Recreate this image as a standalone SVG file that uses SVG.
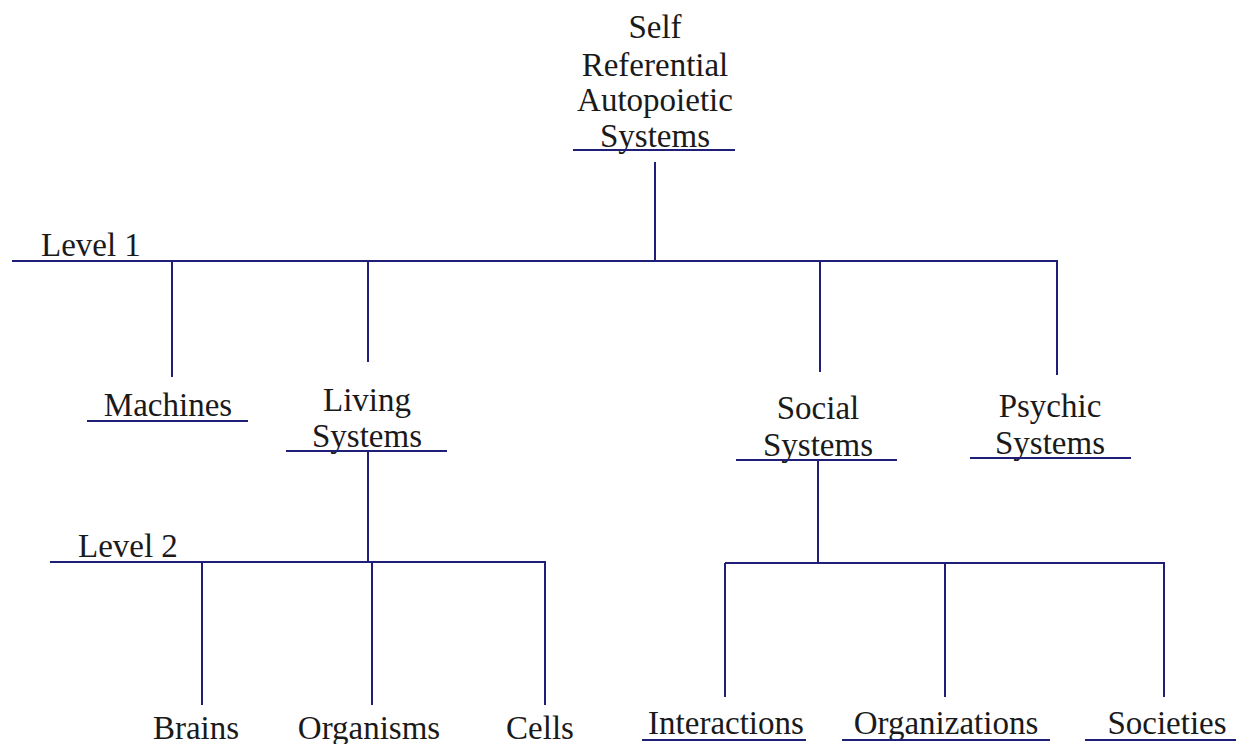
<svg xmlns="http://www.w3.org/2000/svg" width="1238" height="744" viewBox="0 0 1238 744">
<style>
text{font-family:"Liberation Serif","Times New Roman",serif;font-size:33px;fill:#1a1a1a;text-anchor:middle}
.l{text-anchor:start}
line{stroke:#1f1f7a;stroke-width:2}
</style>
<rect width="1238" height="744" fill="#ffffff"/>
<g id="connectors">
<line x1="655" y1="162" x2="655" y2="261"/>
<line x1="12" y1="261" x2="1058" y2="261"/>
<line x1="172" y1="261" x2="172" y2="377"/>
<line x1="368" y1="261" x2="368" y2="362"/>
<line x1="820" y1="261" x2="820" y2="372"/>
<line x1="1057" y1="261" x2="1057" y2="375"/>
<line x1="368" y1="452" x2="368" y2="562"/>
<line x1="50" y1="562" x2="546" y2="562"/>
<line x1="202" y1="562" x2="202" y2="705"/>
<line x1="372" y1="562" x2="372" y2="705"/>
<line x1="545" y1="562" x2="545" y2="705"/>
<line x1="818" y1="461" x2="818" y2="563"/>
<line x1="725" y1="563" x2="1165" y2="563"/>
<line x1="725" y1="563" x2="725" y2="697"/>
<line x1="945" y1="563" x2="945" y2="697"/>
<line x1="1164" y1="563" x2="1164" y2="697"/>
</g>
<g id="level-labels">
<text class="l" x="41" y="256">Level 1</text>
<text class="l" x="78" y="557">Level 2</text>
</g>
<g id="root">
<text x="655" y="38">Self</text>
<text x="655" y="76">Referential</text>
<text x="655" y="111">Autopoietic</text>
<text x="655" y="147">Systems</text>
<line x1="573" y1="150" x2="735" y2="150"/>
</g>
<g id="machines">
<text x="168" y="416">Machines</text>
<line x1="87" y1="421" x2="248" y2="421"/>
</g>
<g id="living-systems">
<text x="367" y="411">Living</text>
<text x="367" y="447">Systems</text>
<line x1="286" y1="451" x2="447" y2="451"/>
</g>
<g id="social-systems">
<text x="818" y="419">Social</text>
<text x="818" y="456">Systems</text>
<line x1="736" y1="460" x2="897" y2="460"/>
</g>
<g id="psychic-systems">
<text x="1050" y="417">Psychic</text>
<text x="1050" y="454">Systems</text>
<line x1="970" y1="458" x2="1131" y2="458"/>
</g>
<g id="brains"><text x="196" y="739">Brains</text></g>
<g id="organisms"><text x="369" y="739">Organisms</text></g>
<g id="cells"><text x="540" y="739">Cells</text></g>
<g id="interactions">
<text x="726" y="734">Interactions</text>
<line x1="642" y1="740" x2="806" y2="740"/>
</g>
<g id="organizations">
<text x="946" y="734">Organizations</text>
<line x1="842" y1="740" x2="1050" y2="740"/>
</g>
<g id="societies">
<text x="1167" y="734">Societies</text>
<line x1="1085" y1="740" x2="1236" y2="740"/>
</g>
</svg>
